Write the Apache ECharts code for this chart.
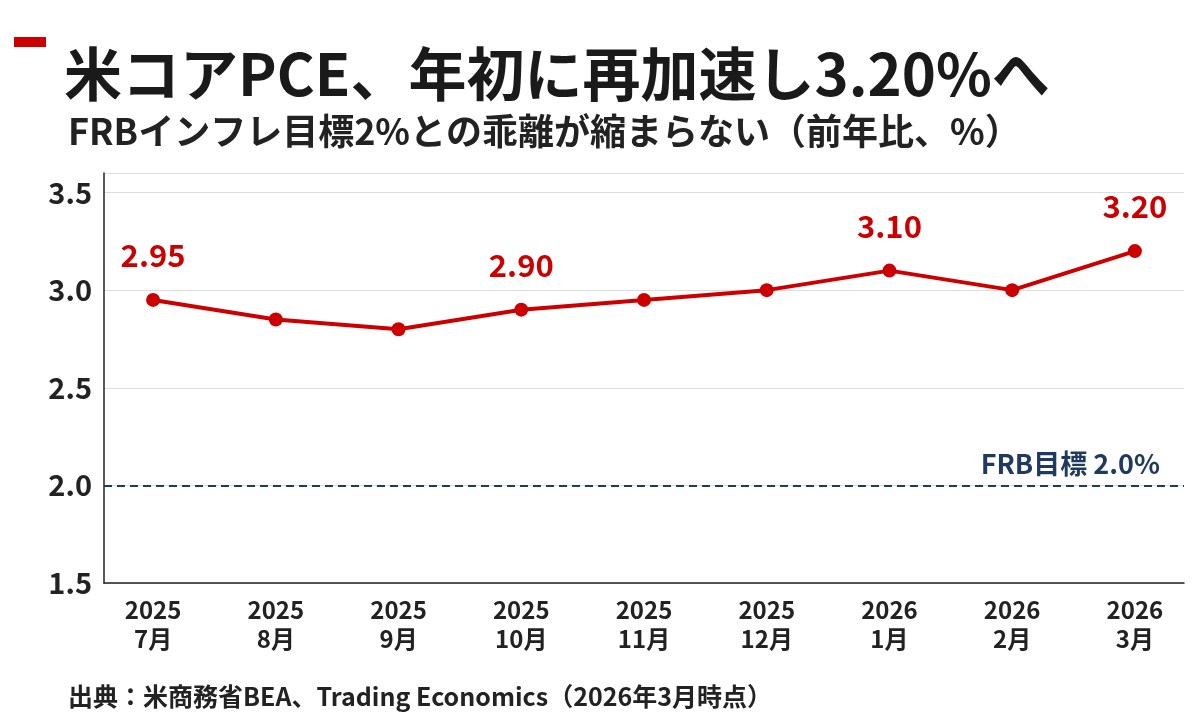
<!DOCTYPE html>
<html>
<head>
<meta charset="utf-8"/>
<title>米コアPCE</title>
<style>body{margin:0;background:#fff}</style>
</head>
<body>
<div id="main" style="width:1200px;height:712px;"></div>
<script src="https://cdn.jsdelivr.net/npm/echarts@6/dist/echarts.min.js"></script>
<script>
var years = ['2025','2025','2025','2025','2025','2025','2026','2026','2026'];
var months = ['7月','8月','9月','10月','11月','12月','1月','2月','3月'];
var pce = [2.95, 2.85, 2.80, 2.90, 2.95, 3.00, 3.10, 3.00, 3.20];
var labelled = [0, 3, 6, 8];
var yTicks = [1.5, 2.0, 2.5, 3.0, 3.5];
var target = 2.0;

var font = '"Noto Sans CJK JP", "Noto Sans", sans-serif';
var chart = echarts.init(document.getElementById('main'));

var pts = pce.map(function (v, i) {
    return {
        value: [i, v],
        label: {show: labelled.indexOf(i) >= 0}
    };
});

chart.setOption({
    textStyle: {fontFamily: font},
    graphic: [
        {type: 'rect', left: 14, top: 37, shape: {width: 32, height: 10}, style: {fill: '#cc0000'}},
        {type: 'text', left: 64, top: 45, style: {text: '米コアPCE、年初に再加速し3.20%へ', font: 'bold 58px ' + font, fill: '#1a1a1a', verticalAlign: 'middle'}},
        {type: 'text', left: 68, top: 113, style: {text: 'FRBインフレ目標2%との乖離が縮まらない（前年比、%）', font: 'bold 36px ' + font, fill: '#222', verticalAlign: 'middle'}},
        {type: 'text', left: 68, top: 684, style: {text: '出典：米商務省BEA、Trading Economics（2026年3月時点）', font: 'bold 25px ' + font, fill: '#222', verticalAlign: 'middle'}}
    ],
    grid: {left: 104, right: 16, top: 173, bottom: 129},
    xAxis: {
        type: 'value', min: -0.4, max: 8.4,
        splitLine: {show: false},
        axisLine: {show: true, lineStyle: {color: '#222', width: 1.5}},
        axisTick: {show: false},
        axisLabel: {
            customValues: [0,1,2,3,4,5,6,7,8],
            formatter: function (v) { return years[v] + '\n' + months[v]; },
            fontSize: 24, fontWeight: 'bold', color: '#222', lineHeight: 29, margin: 12
        }
    },
    yAxis: {
        type: 'value', min: 1.5, max: 3.6, interval: 0.5,
        axisLine: {show: true, onZero: false, lineStyle: {color: '#222', width: 1.5}},
        axisTick: {show: false},
        splitLine: {lineStyle: {color: '#ddd'}},
        axisLabel: {
            customValues: yTicks,
            formatter: function (v) { return v.toFixed(1); },
            fontSize: 29, fontWeight: 'bold', color: '#222', margin: 12
        }
    },
    series: [{
        type: 'line',
        data: pts,
        symbol: 'circle', symbolSize: 14,
        lineStyle: {color: '#cc0000', width: 4},
        itemStyle: {color: '#cc0000'},
        label: {
            position: 'top', distance: 22, fontSize: 31, fontWeight: 'bold', color: '#cc0000',
            formatter: function (p) { return p.value[1].toFixed(2); }
        },
        markLine: {
            silent: true, symbol: 'none',
            lineStyle: {color: '#1f3a5f', type: [8, 5], width: 2},
            label: {position: 'insideEndTop', formatter: 'FRB目標 2.0%', fontSize: 27, fontWeight: 'bold', color: '#1f3a5f', distance: [24, 8]},
            data: [{yAxis: target}]
        }
    }]
});
</script>
</body>
</html>
